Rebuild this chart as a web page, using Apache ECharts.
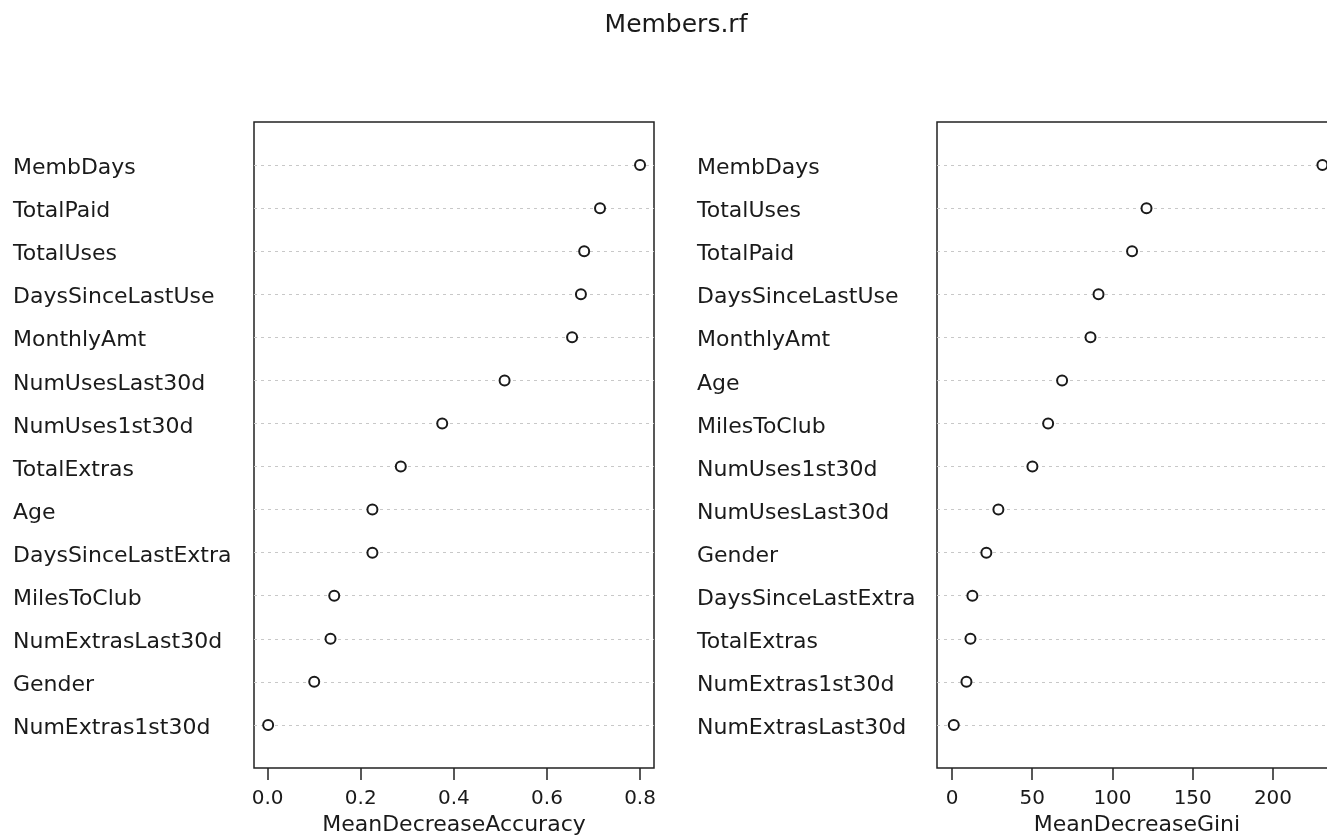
<!DOCTYPE html>
<html>
<head>
<meta charset="utf-8">
<script src="https://cdn.jsdelivr.net/npm/echarts@6/dist/echarts.min.js"></script>
<style>html,body{margin:0;padding:0;background:#fff;overflow:hidden;width:1327px;height:835px}#c{width:1350px;height:835px}</style>
</head>
<body>
<div id="c"></div>
<script>
const chartTitle = 'Members.rf';
const labelsAcc = ['MembDays','TotalPaid','TotalUses','DaysSinceLastUse','MonthlyAmt','NumUsesLast30d','NumUses1st30d','TotalExtras','Age','DaysSinceLastExtra','MilesToClub','NumExtrasLast30d','Gender','NumExtras1st30d'];
const valuesAcc = [0.800,0.714,0.680,0.673,0.654,0.509,0.375,0.286,0.225,0.225,0.143,0.135,0.100,0.001];
const labelsGini = ['MembDays','TotalUses','TotalPaid','DaysSinceLastUse','MonthlyAmt','Age','MilesToClub','NumUses1st30d','NumUsesLast30d','Gender','DaysSinceLastExtra','TotalExtras','NumExtras1st30d','NumExtrasLast30d'];
const valuesGini = [230.8,121.2,112.2,91.3,86.3,68.6,59.9,50.1,28.9,21.4,12.7,11.5,9.0,1.1];
const ticksAcc = [0,0.2,0.4,0.6,0.8];
const ticksGini = [0,50,100,150,200];
const nameAcc = 'MeanDecreaseAccuracy';
const nameGini = 'MeanDecreaseGini';

const FONT = 'DejaVu Sans';
const TXT = '#1a1a1a';
const n = labelsAcc.length;
const LABEL_SHIFT = 0.08; // labels sit slightly below their dotted line

function yAxisFor(gi, labels, margin) {
  const vals = labels.map((_, i) => n - i - LABEL_SHIFT);
  return {
    type: 'value', gridIndex: gi, min: 0, max: n + 1, interval: 1,
    axisLine: {show: false}, axisTick: {show: false},
    axisLabel: {
      customValues: vals,
      margin: margin, align: 'left', verticalAlign: 'middle',
      color: TXT, fontFamily: FONT, fontSize: 22,
      formatter: function (v) { const i = n - Math.round(v); return labels[i] || ''; }
    },
    splitLine: {show: true, showMinLine: false, showMaxLine: false,
      lineStyle: {color: '#c8c8c8', type: [3, 4], width: 1}}
  };
}
function xAxisFor(gi, min, max, ticks, name, fmt) {
  return {
    type: 'value', gridIndex: gi, min: min, max: max,
    name: name, nameLocation: 'middle', nameGap: 45,
    nameTextStyle: {color: TXT, fontFamily: FONT, fontSize: 22, verticalAlign: 'top'},
    axisLine: {show: false},
    axisTick: {show: true, length: 12, customValues: ticks, lineStyle: {color: '#222', width: 1.5}},
    axisLabel: {show: true, customValues: ticks, margin: 21, color: TXT, fontFamily: FONT, fontSize: 20, formatter: fmt},
    splitLine: {show: false}
  };
}
function seriesFor(gi, values) {
  return {
    type: 'scatter', xAxisIndex: gi, yAxisIndex: gi,
    data: values.map((v, i) => [v, n - i]),
    symbol: 'circle', symbolSize: 10,
    itemStyle: {color: '#fff', borderColor: '#1a1a1a', borderWidth: 2, opacity: 1},
    emphasis: {disabled: true}, z: 5
  };
}
function gridAt(left) {
  return {left: left, top: 122, width: 400, height: 646, show: true, borderColor: '#222', borderWidth: 1.5,
    backgroundColor: 'transparent', containLabel: false, outerBoundsMode: 'none'};
}

const chart = echarts.init(document.getElementById('c'), null, {renderer: 'canvas'});
chart.setOption({
  backgroundColor: '#fff',
  animation: false,
  title: {text: chartTitle, left: 671, top: 8, textAlign: 'center',
    textStyle: {color: TXT, fontFamily: FONT, fontSize: 25, fontWeight: 'normal'}},
  grid: [gridAt(254), gridAt(937)],
  xAxis: [
    xAxisFor(0, -0.0294, 0.830, ticksAcc, nameAcc, v => v.toFixed(1)),
    xAxisFor(1, -9.35, 239.9, ticksGini, nameGini, v => String(Math.round(v)))
  ],
  yAxis: [yAxisFor(0, labelsAcc, 241), yAxisFor(1, labelsGini, 240)],
  series: [seriesFor(0, valuesAcc), seriesFor(1, valuesGini)]
});
</script>
</body>
</html>
